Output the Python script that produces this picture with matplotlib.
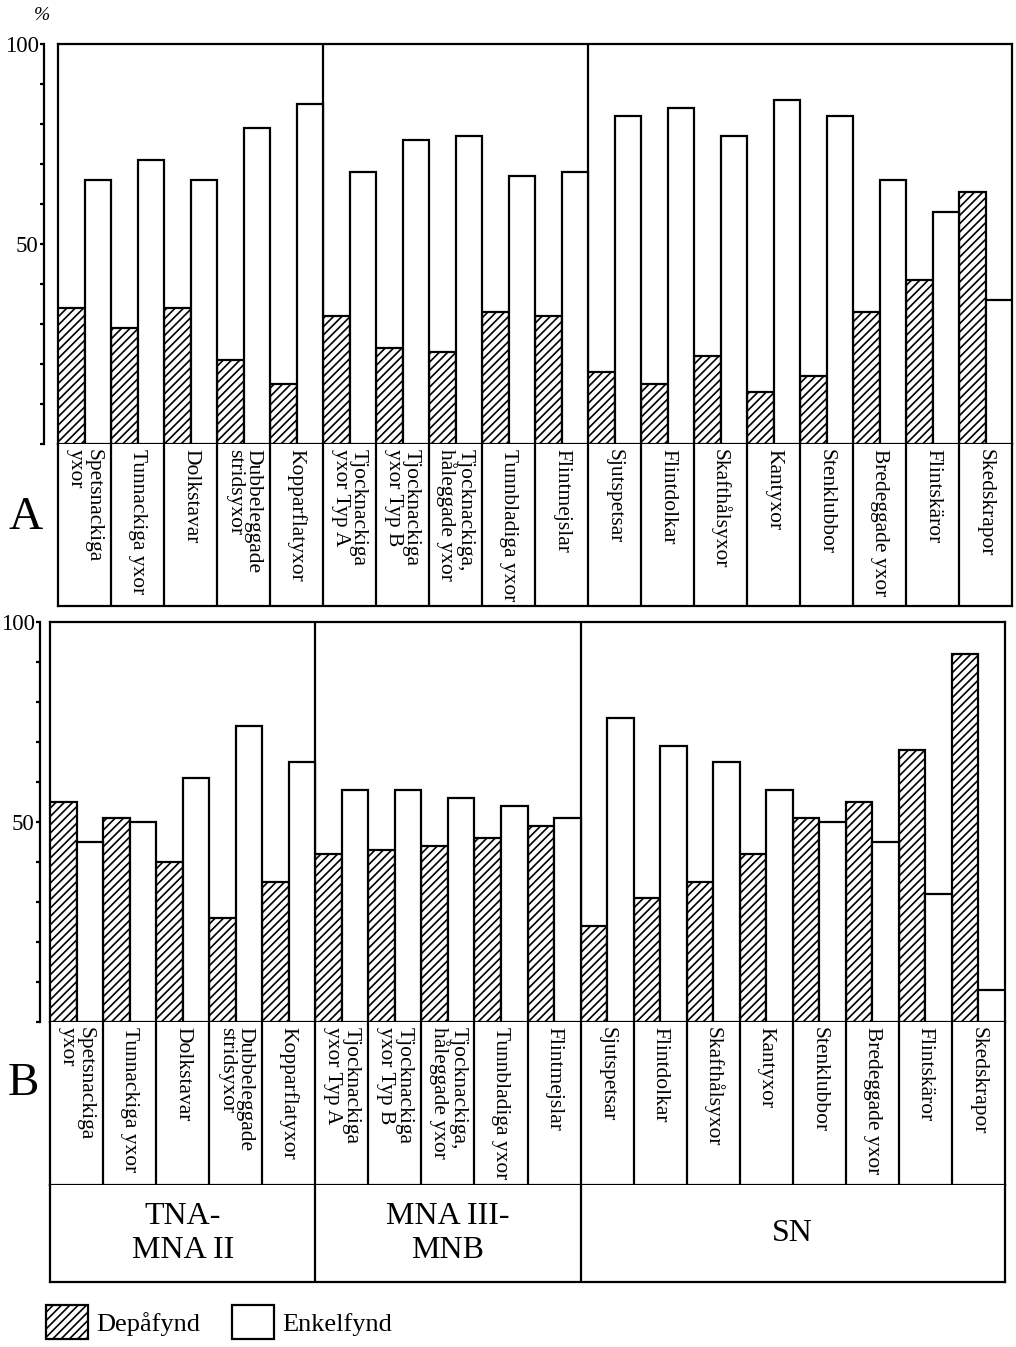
import numpy as np
import matplotlib
matplotlib.use("Agg")
import matplotlib.pyplot as plt
from matplotlib.patches import Patch

plt.rcParams['font.family'] = ['Liberation Serif', 'DejaVu Serif']
plt.rcParams['hatch.linewidth'] = 1.2
plt.rcParams['hatch.color'] = 'black'

categories = ['Spetsnackiga\nyxor', 'Tunnackiga yxor', 'Dolkstavar',
              'Dubbeleggade\nstridsyxor', 'Kopparflatyxor',
              'Tjocknackiga\nyxor Typ A', 'Tjocknackiga\nyxor Typ B',
              'Tjocknackiga,\nhåleggade yxor', 'Tunnbladiga yxor', 'Flintmejslar',
              'Sjutspetsar', 'Flintdolkar', 'Skafthålsyxor', 'Kantyxor',
              'Stenklubbor', 'Bredeggade yxor', 'Flintskäror', 'Skedskrapor']
groups = ['TNA-\nMNA II', 'MNA III-\nMNB', 'SN']
group_sizes = [5, 5, 8]

# panel A
depa_a = [34, 29, 34, 21, 15, 32, 24, 23, 33, 32, 18, 15, 22, 13, 17, 33, 41, 63]
enkel_a = [66, 71, 66, 79, 85, 68, 76, 77, 67, 68, 82, 84, 77, 86, 82, 66, 58, 36]
# panel B
depa_b = [55, 51, 40, 26, 35, 42, 43, 44, 46, 49, 24, 31, 35, 42, 51, 55, 68, 92]
enkel_b = [45, 50, 61, 74, 65, 58, 58, 56, 54, 51, 76, 69, 65, 58, 50, 45, 32, 8]

W, H = 1016, 1347
fig = plt.figure(figsize=(W / 100, H / 100), dpi=100)
LW = 1.6


def px_axes(x0, y0, x1, y1):
    return fig.add_axes([x0 / W, 1 - y1 / H, (x1 - x0) / W, (y1 - y0) / H])


def bar_panel(box, depa, enkel, offset):
    ax = px_axes(*box)
    x = np.arange(len(categories))
    n = len(categories)
    ax.bar(x - 0.25, depa, 0.5, facecolor='white', edgecolor='black',
           hatch='////', linewidth=LW, zorder=3)
    ax.bar(x + 0.25, enkel, 0.5, facecolor='white', edgecolor='black',
           linewidth=LW, zorder=3)
    ax.set_xlim(-0.5, n - 0.5)
    ax.set_ylim(0, 100)
    for b in np.cumsum(group_sizes)[:-1] - 0.5:
        ax.axvline(b, color='black', lw=LW, zorder=1)
    ax.axvline(-0.5, color='black', lw=LW, zorder=1, clip_on=False)
    for s in ['top', 'right', 'bottom', 'left']:
        ax.spines[s].set_linewidth(LW)
    ax.spines['left'].set_position(('outward', offset))
    ax.set_xticks([])
    ax.set_yticks(range(0, 101, 10))
    ax.set_yticklabels(['100' if v == 100 else '50' if v == 50 else ''
                        for v in range(0, 101, 10)], fontsize=16.5)
    ax.tick_params(axis='y', direction='out', length=3, width=LW, pad=1)
    return ax


def label_panel(box):
    ax = px_axes(*box)
    n = len(categories)
    ax.set_xlim(-0.5, n - 0.5)
    ax.set_ylim(0, 1)
    for i in range(n - 1):
        ax.axvline(i + 0.5, color='black', lw=LW)
    for s in ['left', 'right', 'bottom']:
        ax.spines[s].set_linewidth(LW)
    ax.spines['top'].set_visible(False)
    ax.set_xticks([])
    ax.set_yticks([])
    for i, c in enumerate(categories):
        ax.text(i, 0.97, c, rotation=270, ha='center', va='top',
                multialignment='left', fontsize=15.5, linespacing=0.92)
    return ax


# panel A
axA = bar_panel((58, 44, 1012, 444), depa_a, enkel_a, 10)
label_panel((58, 444, 1012, 606))
fig.text(42 / W, 1 - 16 / H, '%', fontsize=14, style='italic', ha='center', va='center')
fig.text(26 / W, 1 - 518 / H, 'A', fontsize=34, ha='center', va='center')

# panel B
axB = bar_panel((50, 622, 1005, 1022), depa_b, enkel_b, 7)
label_panel((50, 1022, 1005, 1185))
fig.text(23 / W, 1 - 1084 / H, 'B', fontsize=34, ha='center', va='center')

# period boxes
axG = px_axes(50, 1185, 1005, 1282)
axG.set_xlim(-0.5, len(categories) - 0.5)
axG.set_ylim(0, 1)
edges = np.concatenate([[0], np.cumsum(group_sizes)]) - 0.5
for b in edges[1:-1]:
    axG.axvline(b, color='black', lw=LW)
for s in ['left', 'right', 'bottom']:
    axG.spines[s].set_linewidth(LW)
axG.spines['top'].set_visible(False)
axG.set_xticks([])
axG.set_yticks([])
for g, lo, hi in zip(groups, edges[:-1], edges[1:]):
    axG.text((lo + hi) / 2, 0.5, g, ha='center', va='center', fontsize=23,
             linespacing=1.2)

handles = [Patch(facecolor='white', edgecolor='black', hatch='////', linewidth=LW),
           Patch(facecolor='white', edgecolor='black', linewidth=LW)]
fig.legend(handles, ['Depåfynd', 'Enkelfynd'], loc='center left',
           bbox_to_anchor=(46 / W, 1 - 1322 / H), frameon=False, ncol=2,
           fontsize=19, handlelength=1.6, handleheight=1.6,
           handletextpad=0.3, columnspacing=1.2, borderpad=0, borderaxespad=0)

fig.savefig('out.png', dpi=100)
